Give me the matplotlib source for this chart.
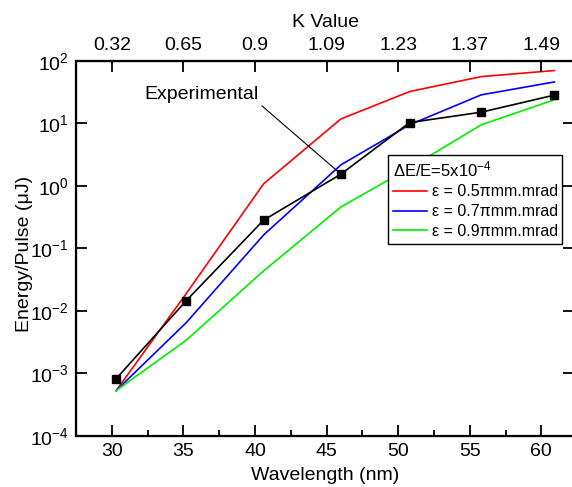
import matplotlib
matplotlib.use("Agg")
import matplotlib.pyplot as plt
from matplotlib import ticker

plt.rcParams["font.family"] = ["Liberation Sans", "DejaVu Sans"]
plt.rcParams["mathtext.default"] = "regular"
plt.rcParams["axes.unicode_minus"] = False

# ── data ─────────────────────────────────────────────────────────────────────
wavelength = [30.3, 35.2, 40.6, 46.0, 50.8, 55.8, 60.9]
experimental = [8.2e-4, 0.0146, 0.283, 1.54, 10.3, 15.1, 28.3]
emit_05 = [5.3e-4, 0.019, 1.08, 11.8, 32.3, 56.0, 70.0]
emit_07 = [5.3e-4, 0.0065, 0.164, 2.17, 9.5, 28.6, 46.0]
emit_09 = [5.3e-4, 0.0034, 0.0437, 0.46, 1.94, 9.5, 23.8]

series_labels = ["ε = 0.5πmm.mrad", "ε = 0.7πmm.mrad", "ε = 0.9πmm.mrad"]
series_colors = ["#ff0000", "#0000ff", "#00ee00"]

wl_ticks = [30, 35, 40, 45, 50, 55, 60]
k_labels = ["0.32", "0.65", "0.9", "1.09", "1.23", "1.37", "1.49"]

# ── figure ───────────────────────────────────────────────────────────────────
fig = plt.figure(figsize=(5.72, 4.87), dpi=100)
ax = fig.add_axes([0.133, 0.105, 0.871, 0.770])

for vals, lab, col in zip([emit_05, emit_07, emit_09], series_labels, series_colors):
    ax.plot(wavelength, vals, color=col, lw=1.2, label=lab)
ax.plot(wavelength, experimental, color="black", lw=1.2, marker="s",
        markersize=6, markerfacecolor="black", markeredgecolor="black")

ax.set_yscale("log")
ax.set_xlim(27.5, 62.3)
ax.set_ylim(1e-4, 1e2)
ax.set_xticks(wl_ticks)
ax.xaxis.set_minor_locator(ticker.MultipleLocator(2.5))
ax.yaxis.set_major_locator(ticker.LogLocator(base=10, numticks=10))
ax.yaxis.set_major_formatter(ticker.LogFormatterSciNotation())
ax.yaxis.set_minor_locator(ticker.NullLocator())

ax.tick_params(which="both", direction="in", width=1.3, labelsize=14, pad=5)
ax.tick_params(which="major", length=8)
ax.tick_params(which="minor", length=4)
ax.tick_params(axis="y", right=True)
ax.tick_params(axis="x", top=False)
for sp in ax.spines.values():
    sp.set_linewidth(1.6)

ax.set_xlabel("Wavelength (nm)", fontsize=14, labelpad=5.5)
ax.set_ylabel("Energy/Pulse (μJ)", fontsize=14)
ax.yaxis.set_label_coords(-0.086, 0.484)

# top axis: K value
ax2 = ax.twiny()
ax2.set_xlim(ax.get_xlim())
ax2.set_xticks(wl_ticks)
ax2.set_xticklabels(k_labels)
ax2.tick_params(direction="in", length=8, width=1.3, labelsize=14, pad=5)
ax2.set_xlabel("K Value", fontsize=14, labelpad=7)

leg = ax.legend(loc="upper left", bbox_to_anchor=(0.627, 0.749), borderaxespad=0,
                fontsize=11.5, title="ΔE/E=5x10$^{-4}$", title_fontsize=12,
                alignment="left", frameon=True, fancybox=False,
                edgecolor="black", framealpha=1, handlelength=2.1,
                labelspacing=0.3, borderpad=0.3, handletextpad=0.3)
leg.get_frame().set_linewidth(1.0)

ax.annotate("Experimental", xy=(wavelength[3], experimental[3]),
            xytext=(32.3, 28.6), fontsize=14, ha="left", va="center",
            arrowprops=dict(arrowstyle="-", color="black", lw=0.8,
                            shrinkA=0, shrinkB=4, relpos=(1, 0)))

fig.savefig("out.png", dpi=100)
